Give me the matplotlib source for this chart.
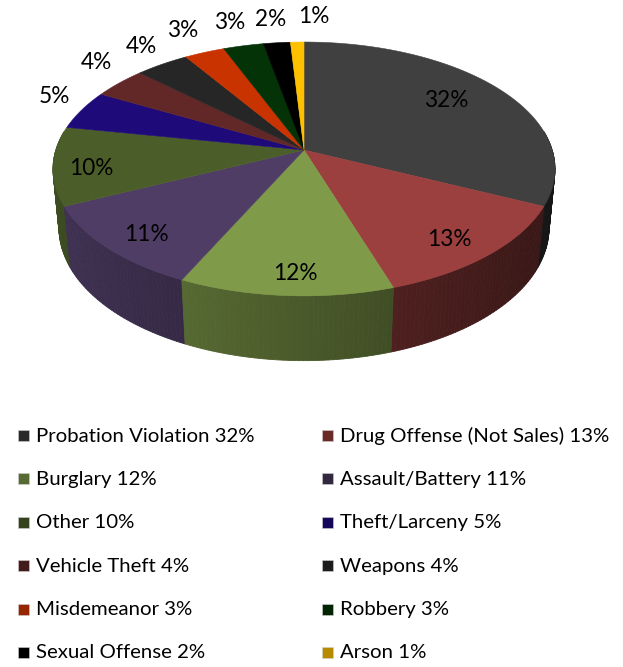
import numpy as np
import matplotlib
matplotlib.use("Agg")
import matplotlib.pyplot as plt
from matplotlib.patches import Polygon, Rectangle
from matplotlib.colors import to_rgb

categories = ["Probation Violation", "Drug Offense (Not Sales)", "Burglary",
              "Assault/Battery", "Other", "Theft/Larceny", "Vehicle Theft",
              "Weapons", "Misdemeanor", "Robbery", "Sexual Offense", "Arson"]
values = [32, 13, 12, 11, 10, 5, 4, 4, 3, 3, 2, 1]
colors = ["#404040", "#9b403e", "#7f9a49", "#4f3d66", "#4b5e29", "#1f0a7a",
          "#622727", "#262626", "#c83300", "#033306", "#000000", "#ffc000"]
legend_colors = ["#2a2a2a", "#6a2a28", "#566a32", "#32283f", "#34421d", "#14065a",
                 "#441b1b", "#1c1c1c", "#952600", "#012403", "#000000", "#b88a00"]

FONT = ["Lato", "DejaVu Sans"]

W, H = 623, 667
fig = plt.figure(figsize=(W / 100, H / 100), dpi=100)
ax = fig.add_axes([0, 0, 1, 1])
ax.set_xlim(0, W)
ax.set_ylim(H, 0)
ax.axis("off")

# ---- 3D projection of a cylinder (pie) ----
elev = np.radians(30)
dist = 5.8
thick = 0.28
CX, CY = 304, 150


def proj(x, y, z):
    cy_, cz_ = -dist * np.cos(elev), dist * np.sin(elev)
    vy = y - cy_
    vz = z - cz_
    depth = vy * np.cos(elev) - vz * np.sin(elev)
    up = vy * np.sin(elev) + vz * np.cos(elev)
    return x / depth, up / depth


tt = np.linspace(0, 2 * np.pi, 2000)
sxs, _ = proj(np.cos(tt), np.sin(tt), 0 * tt)
S = 251 / sxs.max()


def to_px(x, y, z):
    sx, sy = proj(x, y, z)
    return CX + S * sx, CY - S * sy


total = float(sum(values))
fracs = np.array(values) / total
starts = np.pi / 2 - 2 * np.pi * np.concatenate([[0], np.cumsum(fracs)[:-1]])
ends = starts - 2 * np.pi * fracs


def shade(t):
    return 0.58 - 0.24 * np.cos(t)


# side strips, far first
strips = []
for i, (a0, a1) in enumerate(zip(starts, ends)):
    n = max(4, int(abs(a1 - a0) / np.radians(1.0)))
    ts = np.linspace(a0, a1, n + 1)
    for k in range(n):
        t0, t1 = ts[k], ts[k + 1]
        tm = 0.5 * (t0 + t1)
        strips.append((np.sin(tm), i, t0, t1, tm))
strips.sort(key=lambda s: -s[0])
for _, i, t0, t1, tm in strips:
    if np.sin(tm) > 0.15:
        continue
    xs = np.array([np.cos(t0), np.cos(t1), np.cos(t1), np.cos(t0)])
    ys = np.array([np.sin(t0), np.sin(t1), np.sin(t1), np.sin(t0)])
    zs = np.array([0, 0, -thick, -thick])
    px, py = to_px(xs, ys, zs)
    c = np.clip(np.array(to_rgb(colors[i])) * shade(tm), 0, 1)
    ax.add_patch(Polygon(np.column_stack([px, py]), closed=True, facecolor=c,
                         edgecolor=c, linewidth=0.6, antialiased=True))

# top faces
for i, (a0, a1) in enumerate(zip(starts, ends)):
    ts = np.linspace(a0, a1, 200)
    xs = np.concatenate([[0], np.cos(ts)])
    ys = np.concatenate([[0], np.sin(ts)])
    px, py = to_px(xs, ys, np.zeros_like(xs))
    ax.add_patch(Polygon(np.column_stack([px, py]), closed=True,
                         facecolor=colors[i], edgecolor=colors[i], linewidth=0.4))

# data labels (layout: radial position per slice, small nudges for crowded ones)
label_r = [0.72, 0.82, 0.87, 0.82, 0.86, 1.13, 1.17, 1.24, 1.26, 1.26, 1.27, 1.28]
label_nudge = {0: (0, -4), 1: (-3, 5), 3: (0, 6), 5: (0, -9), 6: (5, -10),
               7: (9, 0), 11: (18, 0), 10: (0, 1), 2: (7, 0), 4: (3, 5)}
for i, (a0, a1) in enumerate(zip(starts, ends)):
    tm = 0.5 * (a0 + a1)
    r = label_r[i]
    lx, ly = to_px(r * np.cos(tm), r * np.sin(tm), 0.0)
    dx, dy = label_nudge.get(i, (0, 0))
    ax.text(lx + dx, ly + dy, f"{values[i]}%", ha="center", va="center",
            fontsize=16.3, family=FONT, color="black")

# legend (two columns, row-major order)
row_y0, row_dy = 436, 43.4
col_x = [18, 322]
for i, name in enumerate(categories):
    row, col = divmod(i, 2)
    y = row_y0 + row * row_dy
    x = col_x[col]
    ax.add_patch(Rectangle((x, y - 6), 11, 11, facecolor=legend_colors[i],
                           edgecolor="#d0d0d0", linewidth=0.4))
    ax.text(x + 18, y, f"{name} {values[i]}%", ha="left", va="center",
            fontsize=14.7, family=FONT, color="black")

fig.savefig("out.png", dpi=100, facecolor="white")
